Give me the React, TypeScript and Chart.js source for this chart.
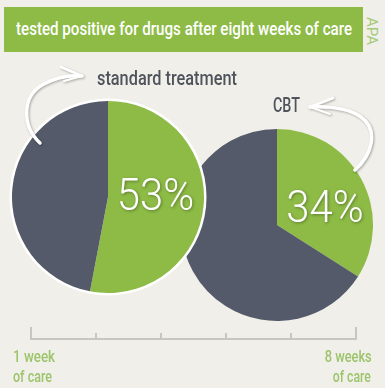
import React, { useEffect, useLayoutEffect, useRef } from "react";
import { Chart, registerables } from "chart.js";

Chart.register(...registerables);

const titleText = "tested positive for drugs after eight weeks of care";
const sourceText = "APA";
const groupNames = ["standard treatment", "CBT"];
const sliceLabels = ["tested positive", "tested negative"];
const standardValues = [53, 47];
const cbtValues = [34, 66];
const timelineSteps = [0, 1, 2, 3, 4, 5];
const startLabel = ["1 week", "of care"];
const endLabel = ["8 weeks", "of care"];

const GREEN = "#8dbb46";
const DARK = "#555a6a";
const BG = "#f0efe9";
const LABEL_GREEN = "#9cc46a";
const TEXT_DARK = "#4f535c";
const FONT = "Roboto, 'Noto Sans', sans-serif";

type FitProps = {
  text: string;
  left?: number;
  right?: number;
  top: number;
  width: number;
  size: number;
  color: string;
  weight?: number;
};

function FitText({ text, left, right, top, width, size, color, weight }: FitProps) {
  const ref = useRef<HTMLDivElement>(null);
  useLayoutEffect(() => {
    const el = ref.current;
    if (!el) return;
    el.style.transform = "none";
    const w = el.getBoundingClientRect().width;
    if (w > 0) el.style.transform = `scaleX(${width / w})`;
  }, []);
  return (
    <div
      ref={ref}
      style={{
        position: "absolute",
        left,
        right,
        top,
        fontFamily: FONT,
        fontSize: size,
        lineHeight: `${size}px`,
        fontWeight: weight ?? 400,
        color,
        whiteSpace: "nowrap",
        transformOrigin: right !== undefined ? "right top" : "left top",
        zIndex: 3,
      }}
    >
      {text}
    </div>
  );
}

type PieProps = {
  values: number[];
  left: number;
  top: number;
  size: number;
  radius: number;
  ring: boolean;
  labelDx: number;
  labelDy: number;
  z: number;
};

function Pie({ values, left, top, size, radius, ring, labelDx, labelDy, z }: PieProps) {
  const ref = useRef<HTMLCanvasElement>(null);
  useEffect(() => {
    if (!ref.current) return;
    const pctPlugin = {
      id: "pct",
      beforeDatasetsDraw(chart: any) {
        if (!ring) return;
        const arc = chart.getDatasetMeta(0).data[0];
        const { x, y, outerRadius } = arc.getProps(["x", "y", "outerRadius"], true);
        const ctx = chart.ctx;
        ctx.save();
        ctx.beginPath();
        ctx.arc(x, y, outerRadius + 2.5, 0, Math.PI * 2);
        ctx.fillStyle = "#ffffff";
        ctx.fill();
        ctx.restore();
      },
      afterDatasetsDraw(chart: any) {
        const arc = chart.getDatasetMeta(0).data[0];
        const { x, y } = arc.getProps(["x", "y"], true);
        const ctx = chart.ctx;
        ctx.save();
        ctx.translate(x + labelDx, y + labelDy);
        ctx.scale(0.93, 1);
        ctx.font = "300 45px Roboto, Lato, 'Open Sans', sans-serif";
        ctx.textAlign = "center";
        ctx.textBaseline = "middle";
        ctx.shadowColor = "rgba(0,0,0,0.35)";
        ctx.shadowBlur = 3;
        ctx.shadowOffsetX = 1;
        ctx.shadowOffsetY = 1;
        ctx.fillStyle = "#ffffff";
        ctx.fillText(`${values[0]}%`, 0, 0);
        ctx.restore();
      },
    };
    const chart = new Chart(ref.current, {
      type: "pie",
      data: {
        labels: sliceLabels,
        datasets: [
          {
            data: values,
            backgroundColor: [GREEN, DARK],
            borderWidth: 0,
            radius: radius,
          } as any,
        ],
      },
      options: {
        responsive: false,
        animation: false,
        events: [],
        layout: { padding: 0 },
        plugins: { legend: { display: false }, tooltip: { enabled: false } },
      },
      plugins: [pctPlugin],
    });
    return () => chart.destroy();
  }, []);
  return (
    <canvas
      ref={ref}
      width={size}
      height={size}
      style={{ position: "absolute", left, top, width: size, height: size, zIndex: z }}
    />
  );
}

function Timeline() {
  const ref = useRef<HTMLCanvasElement>(null);
  useEffect(() => {
    if (!ref.current) return;
    const axisPlugin = {
      id: "timelineAxis",
      afterDraw(chart: any) {
        const xs = chart.scales.x;
        const ctx = chart.ctx;
        const baseY = 19;
        ctx.save();
        ctx.strokeStyle = "#c8c7bf";
        ctx.lineWidth = 2;
        const x0 = xs.getPixelForValue(timelineSteps[0]);
        const x1 = xs.getPixelForValue(timelineSteps[timelineSteps.length - 1]);
        ctx.beginPath();
        ctx.moveTo(x0 - 1, baseY);
        ctx.lineTo(x1 + 1, baseY);
        ctx.stroke();
        timelineSteps.forEach((v, i) => {
          const px = xs.getPixelForValue(v);
          const end = i === 0 || i === timelineSteps.length - 1;
          ctx.beginPath();
          ctx.moveTo(px, baseY);
          ctx.lineTo(px, end ? baseY - 12 : baseY - 6);
          ctx.stroke();
        });
        ctx.restore();
      },
    };
    const chart = new Chart(ref.current, {
      type: "scatter",
      data: { datasets: [{ data: [] }] },
      options: {
        responsive: false,
        animation: false,
        events: [],
        layout: { padding: { left: 15, right: 15, top: 0, bottom: 0 } },
        scales: {
          x: { type: "linear", display: false, min: timelineSteps[0], max: timelineSteps[timelineSteps.length - 1] },
          y: { display: false, min: 0, max: 1 },
        },
        plugins: { legend: { display: false }, tooltip: { enabled: false } },
      },
      plugins: [axisPlugin],
    });
    return () => chart.destroy();
  }, []);
  return (
    <canvas
      ref={ref}
      width={355}
      height={30}
      style={{ position: "absolute", left: 16, top: 320, width: 355, height: 30 }}
    />
  );
}

export default function App() {
  return (
    <div
      style={{
        position: "fixed",
        left: 0,
        top: 0,
        width: 385,
        height: 388,
        background: BG,
        overflow: "hidden",
        fontFamily: FONT,
      }}
    >
      <div
        style={{
          position: "absolute",
          left: 4,
          top: 7,
          width: 359,
          height: 45,
          background: GREEN,
        }}
      />
      <FitText text={titleText} left={16} top={19} width={336} size={19} color="#ffffff" weight={500} />
      <div
        style={{
          position: "absolute",
          left: 379,
          top: 17,
          transform: "rotate(90deg)",
          transformOrigin: "left top",
          color: "#a6ca78",
          fontSize: 15,
          lineHeight: "15px",
          whiteSpace: "nowrap",
        }}
      >
        {sourceText}
      </div>
      <FitText text={groupNames[0]} left={97} top={68} width={140} size={20} color={TEXT_DARK} weight={500} />
      <FitText text={groupNames[1]} left={273} top={95} width={27} size={21} color={TEXT_DARK} weight={500} />

      <Pie values={cbtValues} left={177} top={125} size={200} radius={96} ring={false} labelDx={48} labelDy={-14} z={1} />
      <Pie values={standardValues} left={8} top={97} size={200} radius={96} ring={true} labelDx={47.5} labelDy={2} z={2} />

      <Timeline />

      <FitText text={startLabel[0]} left={13} top={349} width={42} size={16} color={LABEL_GREEN} weight={500} />
      <FitText text={startLabel[1]} left={13} top={369} width={39} size={16} color={LABEL_GREEN} weight={500} />
      <FitText text={endLabel[0]} right={13} top={349} width={47} size={16} color={LABEL_GREEN} weight={500} />
      <FitText text={endLabel[1]} right={14} top={369} width={38} size={16} color={LABEL_GREEN} weight={500} />

      <svg
        width={385}
        height={388}
        style={{
          position: "absolute",
          left: 0,
          top: 0,
          zIndex: 5,
          filter: "drop-shadow(1px 1px 1px rgba(0,0,0,0.3))",
        }}
      >
        <g fill="none" stroke="#ffffff" strokeLinecap="round" strokeLinejoin="round">
          <path d="M40,143 C22,126 21,96 44,84 C57,77 70,75 82,76" strokeWidth={3.5} />
          <path d="M82,76 L61,67" strokeWidth={2.5} />
          <path d="M82,76 L64,81" strokeWidth={2} />
          <path d="M355,170 C372,155 379,130 361,117 C348,108 330,106 310,107" strokeWidth={3.5} />
          <path d="M310,107 L333,98" strokeWidth={2.5} />
          <path d="M310,107 L330,114" strokeWidth={2} />
        </g>
      </svg>
    </div>
  );
}
